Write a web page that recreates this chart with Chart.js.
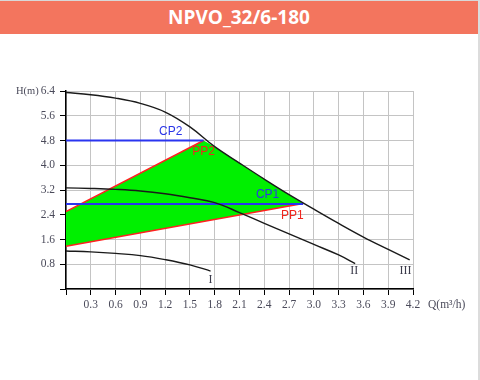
<!DOCTYPE html>
<html>
<head>
<meta charset="utf-8">
<script src="https://cdn.jsdelivr.net/npm/chart.js@4/dist/chart.umd.min.js"></script>
<style>
  html,body{margin:0;padding:0;background:#fff;width:480px;height:380px;overflow:hidden;}
  #topline{position:absolute;left:0;top:0;width:480px;height:1px;background:#d8d8d8;}
  #rightstrip{position:absolute;left:478px;top:0;width:2px;height:380px;background:#dcdcdc;}
  #title{position:absolute;left:0;top:1px;width:478px;height:33px;background:#F3755E;color:#fff;
    font-family:"Open Sans",sans-serif;font-weight:bold;font-size:19px;line-height:33px;text-align:center;}
  #wrap{position:absolute;left:0;top:34px;width:478px;height:346px;}
</style>
</head>
<body>
<div id="topline"></div>
<div id="title">NPVO_32/6-180</div>
<div id="rightstrip"></div>
<div id="wrap"><canvas id="c" width="478" height="346"></canvas></div>
<script>
// ---- data ----
const curve3X = [0, 0.3, 0.6, 0.9, 1.2, 1.5, 1.8, 2.1, 2.4, 2.7, 3.0, 3.3, 3.6, 3.9, 4.16];
const curve3Y = [6.35, 6.28, 6.17, 6.0, 5.72, 5.24, 4.6, 4.07, 3.55, 3.05, 2.58, 2.12, 1.68, 1.28, 0.94];
const curve2X = [0, 0.3, 0.6, 0.9, 1.2, 1.5, 1.8, 2.1, 2.4, 2.7, 3.0, 3.3, 3.5];
const curve2Y = [3.27, 3.25, 3.22, 3.17, 3.08, 2.95, 2.79, 2.47, 2.12, 1.78, 1.44, 1.1, 0.82];
const curve1X = [0, 0.3, 0.6, 0.9, 1.2, 1.5, 1.75];
const curve1Y = [1.23, 1.2, 1.15, 1.08, 0.95, 0.78, 0.58];
const pp1X = [0, 2.87];
const pp1Y = [1.38, 2.76];
const pp2X = [0, 1.665];
const pp2Y = [2.5, 4.8];
const cp1X = [0, 2.87];
const cp1Y = [2.75, 2.75];
const cp2X = [0, 1.665];
const cp2Y = [4.8, 4.8];
const xTicks = [0, 0.3, 0.6, 0.9, 1.2, 1.5, 1.8, 2.1, 2.4, 2.7, 3.0, 3.3, 3.6, 3.9, 4.2];
const yTicks = [0, 0.8, 1.6, 2.4, 3.2, 4.0, 4.8, 5.6, 6.4];
const curveNames = ['I', 'II', 'III'];

function pts(xs, ys){ return xs.map((x,i)=>({x:x, y:ys[i]})); }

// green operating region: PP1 line, curve III between the corners, PP2 line
const region = [];
region.push({x:pp1X[0], y:pp1Y[0]});
region.push({x:pp1X[1], y:pp1Y[1]});
for (let i = curve3X.length-1; i >= 0; i--) {
  if (curve3X[i] < pp1X[1] && curve3X[i] > pp2X[1]) region.push({x:curve3X[i], y:curve3Y[i]});
}
region.push({x:pp2X[1], y:pp2Y[1]});
region.push({x:pp2X[0], y:pp2Y[0]});
region.push({x:pp1X[0], y:pp1Y[0]});

const textFont = '"Liberation Serif", "DejaVu Serif", serif';

const labelPlugin = {
  id:'labels',
  afterDraw(chart){
    const ctx = chart.ctx, xs = chart.scales.x, ys = chart.scales.y;
    ctx.save();
    ctx.font = '12px "Liberation Sans", Arial, sans-serif';
    ctx.textAlign = 'center'; ctx.textBaseline = 'middle';
    const lab = [
      ['CP2', 1.267, 5.07, '#2a35e8'],
      ['PP2', 1.665, 4.43, '#f0261e'],
      ['CP1', 2.44, 3.04, '#2a35e8'],
      ['PP1', 2.74, 2.36, '#f0261e']
    ];
    lab.forEach(l=>{ ctx.fillStyle=l[3]; ctx.fillText(l[0], xs.getPixelForValue(l[1]), ys.getPixelForValue(l[2])); });
    ctx.font = '12px ' + textFont;
    ctx.fillStyle = '#3a3a4a';
    const rn = [[1.75, 0.29], [3.49, 0.58], [4.11, 0.58]];
    rn.forEach((p,i)=>{ ctx.fillText(curveNames[i], xs.getPixelForValue(p[0]), ys.getPixelForValue(p[1])); });
    ctx.font = '10.5px ' + textFont;
    ctx.fillStyle = '#4a4a5a';
    ctx.textAlign = 'left';
    ctx.fillText('H(m)', 16, ys.getPixelForValue(6.4));
    ctx.font = '11.5px ' + textFont;
    ctx.fillText('Q(m³/h)', xs.getPixelForValue(4.2) + 15, xs.bottom - 91 + 16);
    ctx.restore();
  }
};

const lineDs = (data, color, width, smooth, order) => ({
  data, borderColor: color, borderWidth: width, pointRadius: 0, fill: false, showLine: true,
  tension: smooth ? 0.4 : 0, order: order
});

new Chart(document.getElementById('c'), {
  type: 'scatter',
  data: {
    datasets: [
      {data: region, showLine: true, borderWidth: 0, borderColor: 'rgba(0,0,0,0)', backgroundColor: '#00f000', fill: 'shape', pointRadius: 0, tension: 0, order: 10},
      lineDs(pts(cp2X, cp2Y), '#2a35f0', 2, false, 2),
      lineDs(pts(cp1X, cp1Y), '#2a35f0', 2, false, 2),
      lineDs(pts(pp2X, pp2Y), '#ff2020', 1.5, false, 3),
      lineDs(pts(pp1X, pp1Y), '#ff2020', 1.5, false, 3),
      lineDs(pts(curve3X, curve3Y), '#1a1a1a', 1.4, true, 1),
      lineDs(pts(curve2X, curve2Y), '#1a1a1a', 1.4, true, 1),
      lineDs(pts(curve1X, curve1Y), '#1a1a1a', 1.4, true, 1)
    ]
  },
  options: {
    responsive: false,
    animation: false,
    events: [],
    layout: {padding: {left: 0, top: 57, right: 65, bottom: 0}},
    plugins: {legend: {display: false}, tooltip: {enabled: false}},
    scales: {
      x: {
        type: 'linear', min: 0, max: 4.2,
        afterBuildTicks: s => { s.ticks = xTicks.map(v=>({value:v})); },
        afterFit: s => { s.height = 91; },
        grid: {color: '#c4c4c4', lineWidth: 1, tickColor: '#000', tickLength: 6, drawTicks: true},
        border: {color: '#000', width: 1.5},
        ticks: {font: {family: textFont, size: 11.5}, color: '#4a4a5a', padding: 3, maxRotation: 0, autoSkip: false,
          callback: v => v === 0 ? '' : v.toFixed(1)}
      },
      y: {
        type: 'linear', min: 0, max: 6.4,
        afterBuildTicks: s => { s.ticks = yTicks.map(v=>({value:v})); },
        afterFit: s => { s.width = 66; },
        grid: {color: '#c4c4c4', lineWidth: 1, tickColor: '#000', tickLength: 6, drawTicks: true},
        border: {color: '#000', width: 1.5},
        ticks: {font: {family: textFont, size: 11.5}, color: '#4a4a5a', padding: 5, autoSkip: false,
          callback: v => v === 0 ? '' : v.toFixed(1)}
      }
    }
  },
  plugins: [labelPlugin]
});
</script>
</body>
</html>
